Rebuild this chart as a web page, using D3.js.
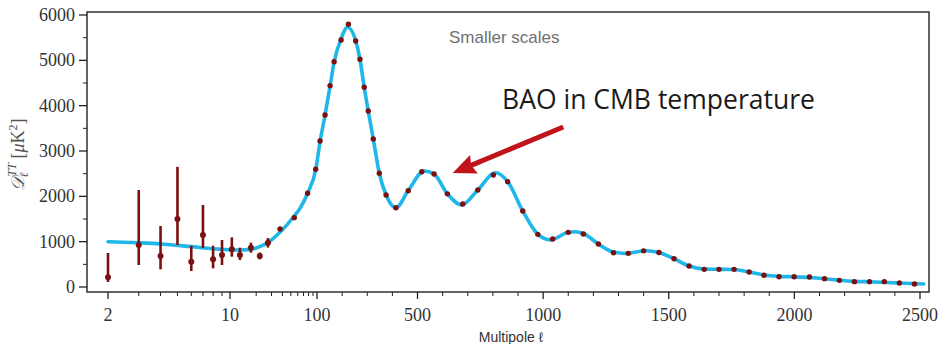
<!DOCTYPE html>
<html><head><meta charset="utf-8">
<script src="https://cdn.jsdelivr.net/npm/d3@7"></script>
<style>body{margin:0;background:#fff}svg{display:block}</style>
</head><body>
<script>
// ---- data ----
const lowEll  = [2, 3, 4, 5, 6, 7, 8, 9, 10.5, 13, 17.4, 22, 27.3];
const lowD    = [214, 927, 684, 1500, 558, 1147, 611, 706, 831, 706, 868, 684, 977];
const lowHi   = [750, 2140, 1345, 2650, 910, 1810, 910, 1037, 1096, 868, 978, 760, 1080];
const lowLo   = [110, 485, 390, 927, 353, 860, 412, 485, 670, 596, 757, 610, 870];

const binEll = [37.6, 54.8, 78, 96.6, 112, 132, 152, 168, 196, 225, 254, 271, 288, 304, 324, 348, 375, 414, 463, 517, 566, 619, 680, 740, 802, 859, 919, 979, 1038, 1100, 1160, 1220, 1280, 1339, 1400, 1461, 1521, 1581, 1641, 1700, 1760, 1820, 1879, 1939, 1999, 2060, 2120, 2179, 2239, 2299, 2358, 2418, 2478];
const binD   = [1280, 1530, 2067, 2596, 3221, 3794, 4441, 4970, 5449, 5795, 5427, 5023, 4405, 3882, 3265, 2508, 2029, 1749, 2125, 2544, 2493, 2055, 1831, 2140, 2471, 2324, 1676, 1162, 1059, 1206, 1169, 949, 757, 743, 798, 760, 625, 463, 390, 390, 390, 331, 258, 228, 228, 221, 184, 147, 118, 118, 118, 88, 66];

const modelEll = [2, 3, 4, 6, 8, 10, 13, 17, 22, 27, 38, 54, 64, 78, 97, 112, 132, 152, 168, 196, 222, 254, 271, 288, 304, 324, 348, 375, 414, 463, 527, 566, 619, 676, 740, 810, 859, 919, 979, 1030, 1100, 1130, 1160, 1220, 1280, 1330, 1410, 1461, 1521, 1581, 1641, 1700, 1760, 1820, 1879, 1939, 1999, 2060, 2120, 2179, 2239, 2299, 2358, 2418, 2515];
const modelD   = [1000, 975, 950, 890, 845, 818, 815, 830, 890, 977, 1220, 1550, 1740, 2067, 2600, 3200, 3790, 4430, 4960, 5480, 5730, 5430, 5020, 4400, 3880, 3265, 2508, 2029, 1749, 2125, 2560, 2493, 2055, 1810, 2140, 2520, 2324, 1676, 1162, 1040, 1206, 1220, 1180, 949, 770, 740, 800, 760, 625, 463, 395, 390, 385, 331, 265, 235, 225, 210, 184, 150, 125, 115, 105, 88, 66];

const xMajor = [2, 10, 100, 500, 1000, 1500, 2000, 2500];
const xMinor = [3,4,5,6,7,8,9, 20,30,40,50,60,70,80,90, 200,300,400,600,700,800,900,1100,1200,1300,1400,1600,1700,1800,1900,2100,2200,2300,2400];
const yMajor = [0, 1000, 2000, 3000, 4000, 5000, 6000];
const yMinor = [500, 1500, 2500, 3500, 4500, 5500];

const annotation = {text: "BAO in CMB temperature", tipEll: 640, tipD: 2515, tailEll: 1080, tailD: 3530};
const topNote = "Smaller scales";

// ---- layout ----
const W = 940, H = 344;
const L = 87, R = 929, T = 12, B = 292;

const s1 = d3.scaleLog().domain([2, 10]).range([108, 230]);
const s2 = d3.scaleLog().domain([10, 100]).range([230, 317]);
const s3 = d3.scaleLinear().domain([100, 2500]).range([317, 920]);
const x = l => l <= 10 ? s1(l) : (l <= 100 ? s2(l) : s3(l));
const y = d3.scaleLinear().domain([-110, 6066]).range([B, T]);

const svg = d3.select("body").append("svg").attr("width", W).attr("height", H);

const dark = "#333";
const serif = "'Liberation Serif','Times New Roman',serif";

// ticks x
const gx = svg.append("g");
gx.selectAll("line.maj").data(xMajor).join("line")
  .attr("x1", d => x(d)).attr("x2", d => x(d)).attr("y1", B).attr("y2", B + 7)
  .attr("stroke", "#222").attr("stroke-width", 1.3);
gx.selectAll("line.min").data(xMinor).join("line")
  .attr("x1", d => x(d)).attr("x2", d => x(d)).attr("y1", B).attr("y2", B + 4)
  .attr("stroke", "#222").attr("stroke-width", 1);
gx.selectAll("text").data(xMajor).join("text")
  .attr("x", d => x(d)).attr("y", 321).attr("text-anchor", "middle")
  .attr("font-family", serif).attr("font-size", 18).attr("fill", dark).text(d => d);

// ticks y
const gy = svg.append("g");
gy.selectAll("line.maj").data(yMajor).join("line")
  .attr("x1", L - 8).attr("x2", L).attr("y1", d => y(d)).attr("y2", d => y(d))
  .attr("stroke", "#222").attr("stroke-width", 1.3);
gy.selectAll("line.min").data(yMinor).join("line")
  .attr("x1", L - 4).attr("x2", L).attr("y1", d => y(d)).attr("y2", d => y(d))
  .attr("stroke", "#222").attr("stroke-width", 1);
gy.selectAll("text").data(yMajor).join("text")
  .attr("x", L - 12).attr("y", d => y(d)).attr("dy", "0.33em").attr("text-anchor", "end")
  .attr("font-family", serif).attr("font-size", 18).attr("fill", dark).text(d => d);

// y label
const yl = svg.append("text").attr("transform", "translate(24,155) rotate(-90)")
  .attr("text-anchor", "middle").attr("font-family", serif).attr("font-size", 18).attr("fill", "#555");
yl.append("tspan").attr("font-style", "italic").text("𝒟");
yl.append("tspan").attr("font-style", "italic").attr("font-size", 12).attr("dy", 4).text("ℓ");
yl.append("tspan").attr("font-style", "italic").attr("font-size", 12).attr("dy", -12).attr("dx", -4).text("TT");
yl.append("tspan").attr("dy", 8).text("  [");
yl.append("tspan").attr("font-style", "italic").text("μ");
yl.append("tspan").text("K");
yl.append("tspan").attr("font-size", 12).attr("dy", -7).text("2");
yl.append("tspan").attr("dy", 7).text("]");

// x label
svg.append("text").attr("x", 511).attr("y", 342).attr("text-anchor", "middle")
  .attr("font-family", "'Liberation Sans',Arial,sans-serif").attr("font-size", 14).attr("fill", "#333")
  .text("Multipole ℓ");

// model curve
const model = modelEll.map((l, i) => [l, modelD[i]]);
svg.append("path").datum(model)
  .attr("d", d3.line().x(d => x(d[0])).y(d => y(d[1])).curve(d3.curveMonotoneX))
  .attr("fill", "none").attr("stroke", "#1fb6ea").attr("stroke-width", 3.6).attr("stroke-linecap", "round");

// low-ell error bars
const red = "#7a1010";
const low = lowEll.map((l, i) => ({l, d: lowD[i], hi: lowHi[i], lo: lowLo[i]}));
svg.append("g").selectAll("line").data(low).join("line")
  .attr("x1", d => x(d.l)).attr("x2", d => x(d.l)).attr("y1", d => y(d.hi)).attr("y2", d => y(d.lo))
  .attr("stroke", red).attr("stroke-width", 2.6);
svg.append("g").selectAll("circle").data(low).join("circle")
  .attr("cx", d => x(d.l)).attr("cy", d => y(d.d)).attr("r", 3).attr("fill", red);

// binned points
const bins = binEll.map((l, i) => ({l, d: binD[i]}));
svg.append("g").selectAll("circle").data(bins).join("circle")
  .attr("cx", d => x(d.l)).attr("cy", d => y(d.d)).attr("r", 2.7).attr("fill", red);

// frame
svg.append("rect").attr("x", L).attr("y", T).attr("width", R - L).attr("height", B - T)
  .attr("fill", "none").attr("stroke", "#222").attr("stroke-width", 1.4);

// top note
svg.append("text").attr("x", 449).attr("y", 43)
  .attr("font-family", "'Liberation Sans',Arial,sans-serif").attr("font-size", 17).attr("fill", "#707070")
  .text(topNote);

// annotation arrow
const tip = [x(annotation.tipEll), y(annotation.tipD)];
const tail = [x(annotation.tailEll), y(annotation.tailD)];
const dx = tail[0] - tip[0], dy = tail[1] - tip[1], len = Math.hypot(dx, dy);
const ux = dx / len, uy = dy / len, px = -uy, py = ux;
const hl = 20, hw = 10;
const base = [tip[0] + ux * hl, tip[1] + uy * hl];
const arrowRed = "#c0141a";
svg.append("line").attr("x1", tail[0]).attr("y1", tail[1]).attr("x2", base[0] - ux * 2).attr("y2", base[1] - uy * 2)
  .attr("stroke", arrowRed).attr("stroke-width", 5);
svg.append("path").attr("d", `M${tip[0]},${tip[1]} L${base[0] + px * hw + ux * 3},${base[1] + py * hw + uy * 3} L${base[0]},${base[1]} L${base[0] - px * hw + ux * 3},${base[1] - py * hw + uy * 3} Z`)
  .attr("fill", arrowRed);
svg.append("text").attr("x", 502).attr("y", 109)
  .attr("font-family", "'Open Sans','Noto Sans',sans-serif").attr("font-size", 27).attr("fill", "#1a1a1a")
  .attr("textLength", 313).attr("lengthAdjust", "spacingAndGlyphs")
  .text(annotation.text);
</script>
</body></html>
